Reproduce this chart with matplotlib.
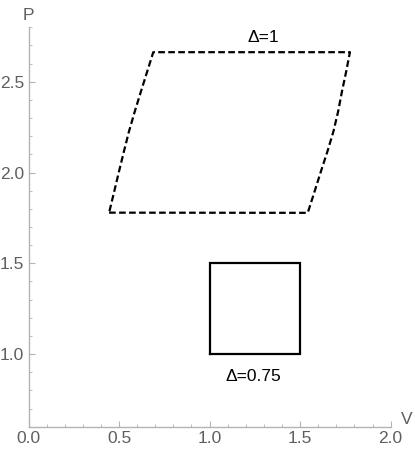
import matplotlib
matplotlib.use("Agg")
import matplotlib.pyplot as plt
from matplotlib.ticker import MultipleLocator, FormatStrFormatter

plt.rcParams['font.family'] = ['Liberation Sans', 'DejaVu Sans']

# Δ=1 cycle (dashed): left edge bottom->top, right edge bottom->top
left_V = [0.445, 0.472, 0.500, 0.527, 0.555, 0.587, 0.621, 0.655, 0.689]
left_P = [1.779, 1.890, 2.007, 2.117, 2.227, 2.337, 2.447, 2.555, 2.663]
right_V = [1.542, 1.578, 1.615, 1.651, 1.684, 1.710, 1.731, 1.754, 1.775]
right_P = [1.778, 1.890, 2.007, 2.117, 2.227, 2.337, 2.447, 2.555, 2.663]

# Δ=0.75 cycle (solid square)
sq_V = [1.0, 1.5, 1.5, 1.0, 1.0]
sq_P = [1.0, 1.0, 1.5, 1.5, 1.0]

labels = ["Δ=1", "Δ=0.75"]
label_V = [1.295, 1.24]
label_P = [2.743, 0.875]

fig = plt.figure(figsize=(4.15, 4.53), dpi=100)
ax = fig.add_axes([0.0687, 0.0581, 0.9414 - 0.0687, 0.9397 - 0.0581])

# closed dashed loop: bottom edge, right edge up, top edge, left edge down
loop_V = [left_V[0]] + right_V + left_V[::-1]
loop_P = [left_P[0]] + right_P + left_P[::-1]
ax.plot(loop_V, loop_P, color='black', lw=1.6, linestyle=(0, (3.0, 1.5)),
        solid_joinstyle='miter')
ax.plot(sq_V, sq_P, color='black', lw=1.6, solid_joinstyle='miter')

for t, x, y in zip(labels, label_V, label_P):
    ax.text(x, y, t, ha='center', va='center', fontsize=12.5, color='black')

ax.set_xlim(0, 2.0)
ax.set_ylim(0.6, 2.8)

axis_col = '#b3b3b3'
lab_col = '#5f5f5f'
for s in ['top', 'right']:
    ax.spines[s].set_visible(False)
for s in ['left', 'bottom']:
    ax.spines[s].set_color(axis_col)
    ax.spines[s].set_linewidth(1.0)

ax.xaxis.set_major_locator(MultipleLocator(0.5))
ax.xaxis.set_minor_locator(MultipleLocator(0.1))
ax.yaxis.set_major_locator(MultipleLocator(0.5))
ax.yaxis.set_minor_locator(MultipleLocator(0.1))
ax.xaxis.set_major_formatter(FormatStrFormatter('%.1f'))
ax.yaxis.set_major_formatter(FormatStrFormatter('%.1f'))
ax.tick_params(which='major', direction='in', length=4, width=0.8, color=axis_col,
               labelsize=12.5, labelcolor=lab_col, pad=3)
ax.tick_params(which='minor', direction='in', length=2.5, width=0.6, color=axis_col)

ax.text(0.0, 1.012, 'P', transform=ax.transAxes, ha='center', va='bottom',
        fontsize=12.5, color=lab_col)
fig.text(406.7 / 415, 1 - 426.7 / 453, 'V', ha='center', va='bottom',
         fontsize=12.5, color=lab_col)

fig.savefig('out.png', dpi=100)
